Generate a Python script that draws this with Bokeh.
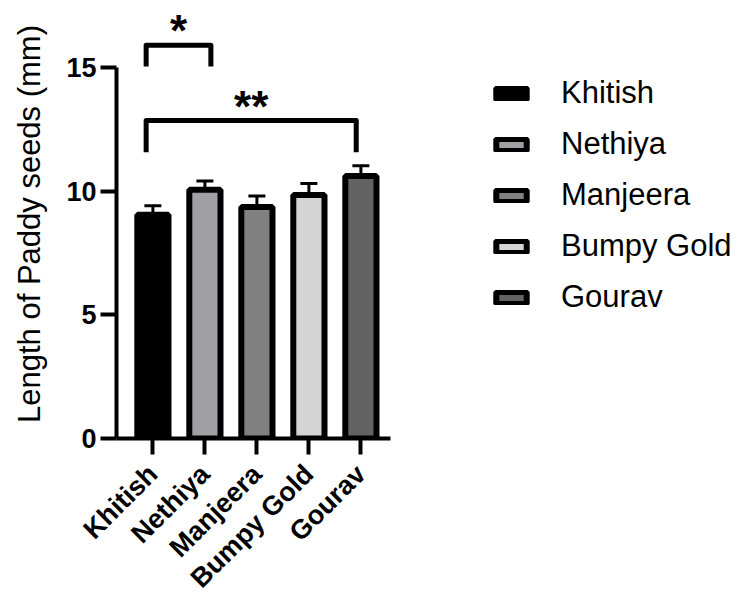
import numpy as np
from bokeh.plotting import figure
from bokeh.models import (ColumnDataSource, FixedTicker, Range1d, Legend, LegendItem,
                          Whisker, TeeHead)
from bokeh.core.properties import value
from bokeh.embed import file_html
from bokeh.resources import INLINE

# ---------------- data ----------------
categories = ["Khitish", "Nethiya", "Manjeera", "Bumpy Gold", "Gourav"]
means = [9.05, 10.06, 9.36, 9.85, 10.62]
sd = [0.36, 0.35, 0.45, 0.46, 0.41]
colors = ["#000000", "#a0a0a4", "#808080", "#d4d4d4", "#636363"]
y_ticks = [0, 5, 10, 15]
y_label = "Length of Paddy seeds (mm)"

# significance brackets (index pairs, labels)
sig_pairs = [(0, 1), (0, 4)]
sig_labels = ["*", "**"]
sig_top = [15.9, 12.86]
sig_bottom = [15.04, 11.58]
sig_leg_offsets = [(-0.13, 0.115), (-0.13, -0.09)]
sig_text_y = [16.5, 13.42]

FONT = "Liberation Sans"

x = list(range(len(categories)))
src = ColumnDataSource(dict(
    x=x, top=means, cat=categories, color=colors,
    upper=[m + s for m, s in zip(means, sd)],
))

p = figure(frame_width=624, frame_height=429,
           x_range=Range1d(-0.7, 11.3), y_range=Range1d(0, 17.35),
           output_backend="svg", toolbar_location=None,
           min_border=0, min_border_left=116, min_border_top=9)

bars = p.vbar(x="x", top="top", bottom=0, width=0.6, source=src,
              fill_color="color", line_color="black", line_width=6)

whisk = Whisker(base="x", lower="top", upper="upper", source=src,
                line_color="black", line_width=3,
                lower_head=None,
                upper_head=TeeHead(size=17, line_width=3, line_color="black"))
p.add_layout(whisk)

# significance brackets
xs, ys = [], []
tx, ty = [], []
for (a, b), top, bot, (oa, ob), tyy in zip(sig_pairs, sig_top, sig_bottom,
                                            sig_leg_offsets, sig_text_y):
    xa, xb = x[a] + oa, x[b] + ob
    xs.append([xa, xa, xb, xb])
    ys.append([bot, top, top, bot])
    tx.append((xa + xb) / 2)
    ty.append(tyy)
p.multi_line(xs, ys, line_color="black", line_width=5, line_join="round")
p.text(x=tx, y=ty, text=sig_labels, text_font=value(FONT), text_font_size="44px",
       text_font_style="bold", text_align="center", text_baseline="alphabetic",
       text_color="black")

# axes
p.xgrid.visible = False
p.ygrid.visible = False
p.outline_line_color = None

yax = p.yaxis[0]
yax.ticker = FixedTicker(ticks=y_ticks)
yax.bounds = (0, 15)
yax.axis_label = y_label
yax.axis_label_text_font = FONT
yax.axis_label_text_font_size = "31px"
yax.axis_label_text_font_style = "normal"
yax.axis_label_text_color = "black"
yax.axis_label_standoff = 16
yax.major_label_text_font = FONT
yax.major_label_text_font_size = "27px"
yax.major_label_text_font_style = "bold"
yax.major_label_text_color = "black"
yax.major_label_standoff = 4

xax = p.xaxis[0]
xax.ticker = FixedTicker(ticks=x)
xax.bounds = (-0.7, 4.56)
xax.major_label_overrides = {i: c for i, c in zip(x, categories)}
xax.major_label_orientation = np.pi / 4
xax.major_label_text_font = FONT
xax.major_label_text_font_size = "27px"
xax.major_label_text_font_style = "bold"
xax.major_label_text_color = "black"
xax.major_label_standoff = 15

for ax in (xax, yax):
    ax.axis_line_width = 4
    ax.axis_line_color = "black"
    ax.major_tick_line_width = 4
    ax.major_tick_line_color = "black"
    ax.major_tick_out = 16
    ax.major_tick_in = 0
    ax.minor_tick_line_color = None

legend = Legend(items=[LegendItem(label=c, renderers=[bars], index=i)
                       for i, c in enumerate(categories)],
                location=(376, 123), padding=0, margin=0, spacing=15,
                glyph_width=38, glyph_height=15, label_standoff=31,
                label_text_font=FONT, label_text_font_size="31px",
                label_text_color="black",
                border_line_color=None, background_fill_alpha=0)
p.add_layout(legend)

open("out.html", "w").write(file_html(p, INLINE))
